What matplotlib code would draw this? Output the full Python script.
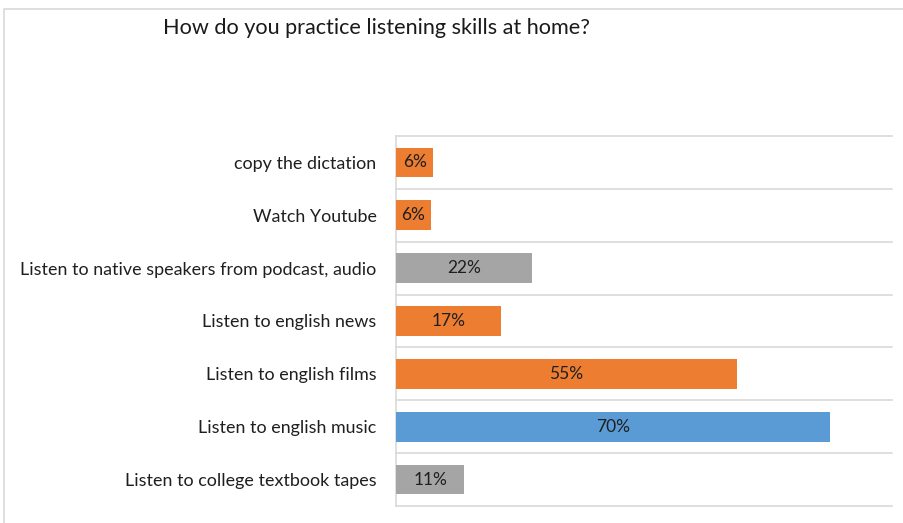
import numpy as np
import matplotlib.pyplot as plt
from matplotlib.patches import Rectangle

# data, bottom to top
categories = [
    "Listen to college textbook tapes",
    "Listen to english music",
    "Listen to english films",
    "Listen to english news",
    "Listen to native speakers from podcast, audio",
    "Watch Youtube",
    "copy the dictation",
]
values = [11, 70, 55, 17, 22, 5.6, 6]
colors = ["#A5A5A5", "#5B9BD5", "#ED7D31", "#ED7D31", "#A5A5A5", "#ED7D31", "#ED7D31"]
title = "How do you practice listening skills at home?"

plt.rcParams['font.family'] = ["Lato", "DejaVu Sans"]

fig = plt.figure(figsize=(9.04, 5.23), dpi=100)
ax = fig.add_axes([396 / 904, 17 / 523, 496 / 904, 370 / 523])

y = np.arange(len(categories))
ax.barh(y, values, height=0.56, color=colors, zorder=3)

for yi, v in zip(y, values):
    ax.text(v / 2, yi, "%.0f%%" % v, ha="center", va="center",
            fontsize=12.5, color="#1f1f1f", zorder=4)

# horizontal separators between categories
for g in np.arange(-0.5, len(categories)):
    ax.axhline(g, color="#D9D9D9", linewidth=1.2, clip_on=False, zorder=1)

ax.set_xlim(0, 80)
ax.set_ylim(-0.5, len(categories) - 0.5)
ax.set_xticks([])
ax.set_yticks(y)
ax.set_yticklabels(categories, fontsize=12.9, color="#1f1f1f")
ax.tick_params(axis="y", length=0, pad=14)
for s in ["top", "right", "bottom"]:
    ax.spines[s].set_visible(False)
ax.spines["left"].set_color("#D9D9D9")
ax.spines["left"].set_linewidth(1.2)

fig.text(163 / 904, 1 - 28 / 523, title, fontsize=15.6, va="center", ha="left", color="#1a1a1a")

# outer chart frame
fig.patches.append(Rectangle((4 / 904, -0.05), 1.0, 1 - 9 / 523 + 0.05, transform=fig.transFigure,
                             fill=False, edgecolor="#D9D9D9", linewidth=1.2))

fig.savefig("out.png", dpi=100)
